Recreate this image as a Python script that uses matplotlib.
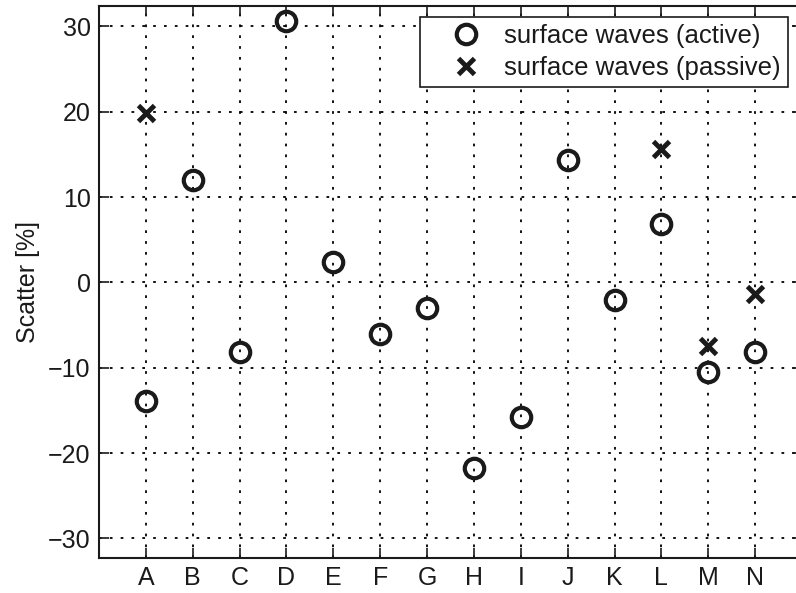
import matplotlib
matplotlib.use('Agg')
import matplotlib.pyplot as plt
import numpy as np

# station labels and scatter values
sites = ['A', 'B', 'C', 'D', 'E', 'F', 'G', 'H', 'I', 'J', 'K', 'L', 'M', 'N']
active = [-13.9, 12.0, -8.1, 30.7, 2.4, -6.1, -3.0, -21.8, -15.8, 14.3, -2.1, 6.8, -10.5, -8.2]
passive_sites = ['A', 'L', 'M', 'N']
passive = [19.8, 15.6, -7.4, -1.4]
yticks = [-30, -20, -10, 0, 10, 20, 30]

plt.rcParams['font.family'] = ['Liberation Sans', 'DejaVu Sans']
ink = '#1a1a1a'

W, H = 796, 593
fig = plt.figure(figsize=(W / 100, H / 100), dpi=100)
ax = fig.add_axes([99 / W, 1 - 558 / H, (802 - 99) / W, (558 - 6) / H])

x_act = np.arange(1, len(sites) + 1)
x_pas = [sites.index(s) + 1 for s in passive_sites]

ax.plot(x_act, active, 'o', ms=14, mfc='none', mec=ink, mew=3.0,
        label='surface waves (active)', zorder=3)
ax.plot(x_pas, passive, 'x', ms=11, mec=ink, mew=3.5,
        label='surface waves (passive)', zorder=3)

ax.set_xlim(0, 15)
ax.set_ylim(-32.3, 32.4)
ax.set_xticks(x_act)
ax.set_xticklabels(sites)
ax.set_yticks(yticks)
ax.set_yticklabels([str(v).replace('-', '\u2212') for v in yticks])
ax.grid(True, color='black', linestyle=(0, (1.5, 4.5)), linewidth=1.3)
ax.tick_params(direction='in', length=7, width=1.2, top=True, right=True,
               labelsize=18, colors=ink, pad=6)
for sp in ax.spines.values():
    sp.set_linewidth(1.5)
    sp.set_color(ink)
ax.set_ylabel('Scatter [%]', fontsize=18, color=ink, labelpad=6)

# legend sits at the top right of the visible area (axes run past the crop)
leg = ax.legend(loc='upper right', bbox_to_anchor=(788 / W, 1 - 17 / H),
                bbox_transform=fig.transFigure, borderaxespad=0,
                fontsize=18.5, fancybox=False, framealpha=1, edgecolor=ink,
                handletextpad=-0.05, borderpad=0.28, labelspacing=0.3,
                handlelength=3.05)
leg.get_frame().set_linewidth(1.2)
for t in leg.get_texts():
    t.set_color(ink)

fig.savefig('out.png', dpi=100)
